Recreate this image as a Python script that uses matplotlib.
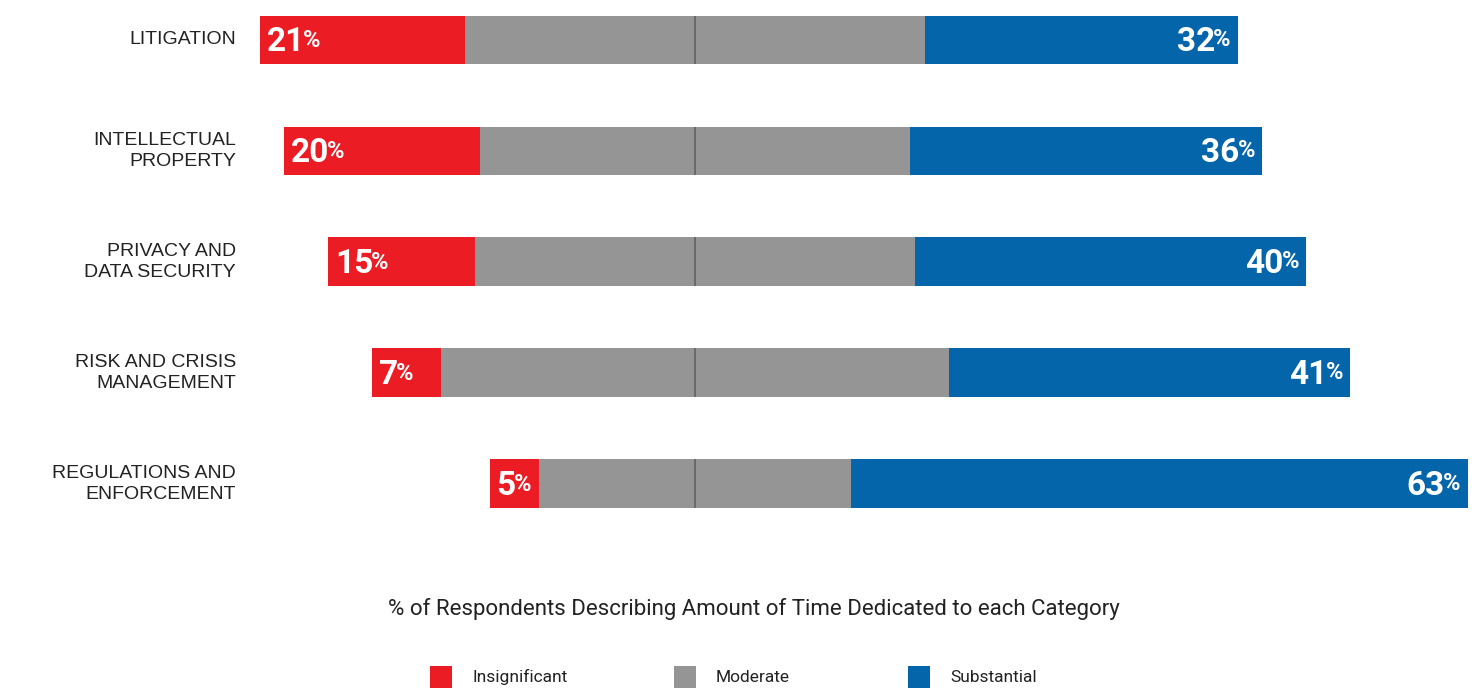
import matplotlib
matplotlib.use("Agg")
import matplotlib.pyplot as plt
from matplotlib.patches import Rectangle
from matplotlib import font_manager

# Survey results: share of respondents per time-dedication level
categories = [
    "LITIGATION",
    "INTELLECTUAL\nPROPERTY",
    "PRIVACY AND\nDATA SECURITY",
    "RISK AND CRISIS\nMANAGEMENT",
    "REGULATIONS AND\nENFORCEMENT",
]
insignificant = [21, 20, 15, 7, 5]
moderate = [47, 44, 45, 52, 32]
substantial = [32, 36, 40, 41, 63]

legend_labels = ["Insignificant", "Moderate", "Substantial"]
title_text = "% of Respondents Describing Amount of Time Dedicated to each Category"

RED = "#EC1C24"
GRAY = "#959595"
BLUE = "#0565AA"
TEXT = "#222222"

names = {f.name for f in font_manager.fontManager.ttflist}
NARROW = "Liberation Sans Narrow" if "Liberation Sans Narrow" in names else "Roboto"

fig = plt.figure(figsize=(14.78, 6.98), dpi=100)
ax = fig.add_axes([0, 0, 1, 1])
ax.set_xlim(-71.06, 80.06)
ax.set_ylim(5.93, -0.36)
ax.axis("off")

bar_h = 0.44
ypos = list(range(len(categories)))
NUM_FS = 24
PCT_FS = 17

for y, cat, ins, mod, sub in zip(ypos, categories, insignificant, moderate, substantial):
    left_edge = -(mod / 2 + ins)
    ax.barh(y, ins, left=left_edge, height=bar_h, color=RED, linewidth=0)
    ax.barh(y, mod, left=-mod / 2, height=bar_h, color=GRAY, linewidth=0)
    ax.barh(y, sub, left=mod / 2, height=bar_h, color=BLUE, linewidth=0)
    ax.vlines(0, y - bar_h / 2, y + bar_h / 2, color="#666666", lw=1.3)

    # value labels: large bold number with a smaller raised percent sign
    t = ax.text(left_edge + 0.7, y + 0.10, f"{ins}", color="white",
                fontsize=NUM_FS, fontweight="bold", family=NARROW,
                ha="left", va="baseline")
    ax.annotate("%", xy=(1, 0), xycoords=t, xytext=(-1.5, 4.5), textcoords="offset points",
                color="white", fontsize=PCT_FS, fontweight="bold", family=NARROW,
                ha="left", va="bottom")

    right_edge = mod / 2 + sub
    p = ax.text(right_edge - 0.75, y + 0.055, "%", color="white",
                fontsize=PCT_FS, fontweight="bold", family=NARROW,
                ha="right", va="baseline")
    ax.annotate(f"{sub}", xy=(0, 0), xycoords=p, xytext=(1.5, -5), textcoords="offset points",
                color="white", fontsize=NUM_FS, fontweight="bold", family=NARROW,
                ha="right", va="bottom")

    # category label
    fig.text(236 / 1478, 1 - (40 + 111 * y) / 698, cat, ha="right", va="center",
             fontsize=14, color=TEXT, family="Liberation Sans", linespacing=1.3,
             multialignment="right")

# axis caption
fig.text(754 / 1478, 1 - 609 / 698, title_text, ha="center", va="center",
         fontsize=16, color=TEXT, family=NARROW)

# legend
legend_colors = [RED, GRAY, BLUE]
sq_x = [430, 674, 908]
for x, c, lab in zip(sq_x, legend_colors, legend_labels):
    fig.patches.append(Rectangle((x / 1478, 1 - 688 / 698), 22 / 1478, 22 / 698,
                                 transform=fig.transFigure, color=c, lw=0))
    fig.text((x + 42) / 1478, 1 - 677 / 698, lab, ha="left", va="center",
             fontsize=12.5, color=TEXT, family=NARROW)

fig.savefig("out.png", dpi=100, facecolor="white")
